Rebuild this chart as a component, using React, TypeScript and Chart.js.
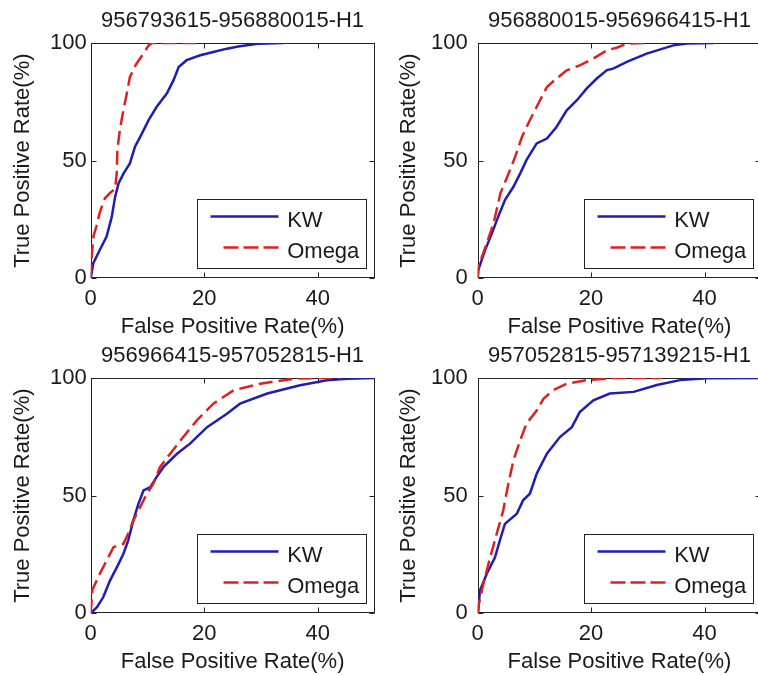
import React, { useEffect, useRef } from "react";
import { Chart, registerables } from "chart.js";

Chart.register(...registerables);

// ---------------- data ----------------
const TITLES = [
  "956793615-956880015-H1",
  "956880015-956966415-H1",
  "956966415-957052815-H1",
  "957052815-957139215-H1",
];
const SERIES_LABELS = ["KW", "Omega"];
const X_LABEL = "False Positive Rate(%)";
const Y_LABEL = "True Positive Rate(%)";
const X_TICKS = [0, 20, 40];
const Y_TICKS = [0, 50, 100];
const X_RANGE = [0, 50];
const Y_RANGE = [0, 100];

const KW_1 = [[0,0],[0.46,6.4],[1.6,12],[2.8,17.7],[3.7,26],[4.3,34.6],[4.9,40.3],[5.8,44.6],[6.9,48.8],[7.8,55.9],[8.7,60],[10.2,67.2],[11.6,72.8],[13.4,78.5],[14.6,84.2],[15.5,89.8],[16.9,92.7],[19.3,94.8],[21.6,96.2],[24,97.6],[26,98.5],[29.4,99.7],[34,100]];
const OMEGA_1 = [[0,0],[0.2,10],[0.5,18],[1,22],[1.6,28],[2.5,34],[3.5,36.5],[4.3,38],[4.6,45],[4.7,55],[5.2,64],[5.8,72],[6.4,79],[6.9,85.5],[8,91],[9.3,95.5],[10.2,99],[10.8,100],[18.5,100]];

const KW_2 = [[0,0],[0.1,3.5],[1.3,12],[2.5,19.1],[3.6,26.1],[4.8,33.2],[6.3,38.9],[7.5,44.6],[8.6,50.2],[10.4,57.3],[12.2,59.4],[13.9,64.3],[15.7,71.4],[17.5,75.7],[19.2,80.6],[21,84.9],[22.8,88.5],[23.9,89.1],[26.3,92],[29.8,95.5],[34.5,99],[37,99.8],[41.6,100]];
const OMEGA_2 = [[0,0],[0.1,4.9],[1.6,14.9],[2.8,23.3],[4,36.1],[5.2,43.1],[6.6,51.6],[7.8,60.1],[9.2,67.2],[10.7,74.3],[12.2,81.3],[13.9,84.9],[15.7,88.4],[18,90.5],[20.4,93.4],[22.8,96.9],[24.5,98],[26.3,99.7],[29.8,100]];

const KW_3 = [[0,0],[1.1,2.6],[2.2,6.8],[3.4,13.9],[4.6,19.5],[5.75,25.2],[6.6,30.9],[7.5,39.4],[8.4,46.5],[9.3,52.2],[10.5,53.6],[11.6,57.9],[12.8,62.1],[15.2,67.8],[17.5,72.1],[20.5,79.1],[24,84.8],[26.3,89.1],[31.1,93.4],[36.9,96.9],[41.6,99],[45.2,99.7],[50,100]];
const OMEGA_3 = [[0,0],[0.3,10],[1.6,16.8],[2.8,22.4],[4,28.1],[5.75,29.5],[6.6,33.8],[7.5,39.4],[8.7,45.1],[9.9,50.8],[11,55],[12.2,62.1],[14,67.8],[16.3,74.9],[18.7,82],[21.6,89.1],[25.2,94.8],[29.9,97.6],[35.8,99.7],[40,100],[44,100]];

const KW_4 = [[0,0],[0.1,1],[0.4,9.7],[1.6,16.8],[3.05,23.8],[3.9,30.9],[4.8,38],[6.9,42.3],[8,48],[9.2,50.8],[10.4,59.3],[12.2,67.8],[14.5,74.9],[16.6,79.1],[18,85.5],[20.4,90.5],[23.3,93.4],[27.5,94.1],[31.6,97],[35.7,99.1],[40.4,99.9],[50,100]];
const OMEGA_4 = [[0,0],[0.1,3],[1,12.5],[2.2,23.8],[3.35,33.8],[4.5,43.7],[5.4,55],[6.3,65],[7.5,73.5],[8.6,80.6],[10.4,86.2],[11.6,91.2],[13.3,94.8],[15.7,97.6],[19.2,99.1],[22.7,99.7],[24,100],[32.6,100]];

const KW_SERIES = [KW_1, KW_2, KW_3, KW_4];
const OMEGA_SERIES = [OMEGA_1, OMEGA_2, OMEGA_3, OMEGA_4];

// ---------------- styling / layout ----------------
const FONT_FAMILY = "'Liberation Sans', Arial, Helvetica, sans-serif";
const FONT_SIZE = 22;
const TEXT_COLOR = "#1a1a1a";
const KW_COLOR = "#1e1eb4";
const OMEGA_COLOR = "#e02020";
const LINE_WIDTH = 2.5;
const DASH = [14, 6];

const PANELS = [
  { left: 0, top: 0, w: 380, h: 340, yW: 90.7, yTickPad: 4, yTitlePad: 10, padRight: 5.5 },
  { left: 380, top: 0, w: 385, h: 340, yW: 97.7, yTickPad: 10, yTitlePad: 16, padRight: 3.8 },
  { left: 0, top: 335, w: 380, h: 340, yW: 90.7, yTickPad: 4, yTitlePad: 10, padRight: 5.5 },
  { left: 380, top: 335, w: 385, h: 340, yW: 97.7, yTickPad: 10, yTitlePad: 16, padRight: 3.8 },
];
const X_AXIS_H = 61.7;

const framePlugin = {
  id: "matlabFrame",
  beforeDatasetsDraw(chart: any) {
    const { ctx, chartArea: a, scales } = chart;
    const x = scales.x;
    const y = scales.y;
    ctx.save();
    ctx.strokeStyle = "#222";
    ctx.lineWidth = 1;
    const l = Math.round(a.left) + 0.5;
    const t = Math.round(a.top) + 0.5;
    const r = Math.round(a.right) - 0.5;
    const b = Math.round(a.bottom) - 0.5;
    ctx.strokeRect(l, t, r - l, b - t);
    const L = 5;
    ctx.beginPath();
    for (const v of X_TICKS) {
      const px = Math.round(x.getPixelForValue(v)) + 0.5;
      ctx.moveTo(px, b);
      ctx.lineTo(px, b - L);
      ctx.moveTo(px, t);
      ctx.lineTo(px, t + L);
    }
    for (const v of Y_TICKS) {
      const py = Math.round(y.getPixelForValue(v)) + 0.5;
      ctx.moveTo(l, py);
      ctx.lineTo(l + L, py);
      ctx.moveTo(r, py);
      ctx.lineTo(r - L, py);
    }
    ctx.stroke();
    ctx.restore();
  },
  afterDatasetsDraw(chart: any) {
    const { ctx, chartArea: a } = chart;
    const bw = 169;
    const bh = 69;
    const bx = Math.round(a.right - 8.5 - bw) + 0.5;
    const by = Math.round(a.bottom - 10.3 - bh) + 0.5;
    ctx.save();
    ctx.fillStyle = "#fff";
    ctx.fillRect(bx, by, bw, bh);
    ctx.strokeStyle = "#222";
    ctx.lineWidth = 1;
    ctx.strokeRect(bx, by, bw, bh);
    const ds = chart.data.datasets;
    const rows = [
      { y: 17, x0: 13, text: 27.7 },
      { y: 48, x0: 26, text: 58.3 },
    ];
    ds.forEach((d: any, i: number) => {
      const row = rows[i];
      ctx.beginPath();
      ctx.strokeStyle = d.borderColor;
      ctx.lineWidth = LINE_WIDTH;
      ctx.setLineDash(i === 1 ? [15, 5] : []);
      ctx.moveTo(bx + row.x0, by + row.y);
      ctx.lineTo(bx + 81, by + row.y);
      ctx.stroke();
      ctx.setLineDash([]);
      ctx.fillStyle = TEXT_COLOR;
      ctx.font = `${FONT_SIZE}px ${FONT_FAMILY}`;
      ctx.textAlign = "left";
      ctx.textBaseline = "alphabetic";
      ctx.fillText(d.label, bx + 89.7, by + row.text);
    });
    ctx.restore();
  },
};

function toXY(arr: number[][]) {
  return arr.map(([x, y]) => ({ x, y }));
}

function Panel({ idx }: { idx: number }) {
  const ref = useRef<HTMLCanvasElement>(null);
  const p = PANELS[idx];
  useEffect(() => {
    if (!ref.current) return;
    const font = { family: FONT_FAMILY, size: FONT_SIZE, weight: "normal" as const };
    const chart = new Chart(ref.current, {
      type: "line",
      data: {
        datasets: [
          {
            label: SERIES_LABELS[0],
            data: toXY(KW_SERIES[idx]),
            borderColor: KW_COLOR,
            borderWidth: LINE_WIDTH,
            pointRadius: 0,
            tension: 0,
            fill: false,
            order: 2,
          },
          {
            label: SERIES_LABELS[1],
            data: toXY(OMEGA_SERIES[idx]),
            borderColor: OMEGA_COLOR,
            borderWidth: LINE_WIDTH,
            borderDash: DASH,
            pointRadius: 0,
            tension: 0,
            fill: false,
            order: 1,
          },
        ],
      },
      options: {
        responsive: false,
        animation: false,
        devicePixelRatio: 1,
        layout: { padding: { left: 0, right: p.padRight, top: 0, bottom: 0 } },
        plugins: {
          legend: { display: false },
          tooltip: { enabled: false },
          title: {
            display: true,
            text: TITLES[idx],
            fullSize: false,
            font,
            color: TEXT_COLOR,
            padding: { top: 7.3, bottom: 9.3 },
          },
        },
        scales: {
          x: {
            type: "linear",
            min: X_RANGE[0],
            max: X_RANGE[1],
            afterBuildTicks: (s: any) => {
              s.ticks = X_TICKS.map((value) => ({ value }));
            },
            afterFit: (s: any) => {
              s.height = X_AXIS_H;
            },
            grid: { display: false, drawTicks: false },
            border: { display: false },
            ticks: { font, color: TEXT_COLOR, padding: 7, maxRotation: 0, autoSkip: false },
            title: { display: true, text: X_LABEL, font, color: TEXT_COLOR, padding: { top: 0, bottom: 0 } },
          },
          y: {
            type: "linear",
            min: Y_RANGE[0],
            max: Y_RANGE[1],
            afterBuildTicks: (s: any) => {
              s.ticks = Y_TICKS.map((value) => ({ value }));
            },
            afterFit: (s: any) => {
              s.width = p.yW;
            },
            grid: { display: false, drawTicks: false },
            border: { display: false },
            ticks: { font, color: TEXT_COLOR, padding: p.yTickPad, autoSkip: false },
            title: { display: true, text: Y_LABEL, font, color: TEXT_COLOR, padding: { top: p.yTitlePad, bottom: 0 } },
          },
        },
      },
      plugins: [framePlugin],
    } as any);
    return () => chart.destroy();
  }, [idx]);
  return (
    <div style={{ position: "absolute", left: p.left, top: p.top, width: p.w, height: p.h }}>
      <canvas ref={ref} width={p.w} height={p.h} style={{ display: "block" }} />
    </div>
  );
}

export default function App() {
  return (
    <div
      style={{
        position: "absolute",
        left: 0,
        top: 0,
        width: 758,
        height: 675,
        overflow: "hidden",
        background: "#fff",
      }}
    >
      {PANELS.map((_, i) => (
        <Panel key={i} idx={i} />
      ))}
    </div>
  );
}
